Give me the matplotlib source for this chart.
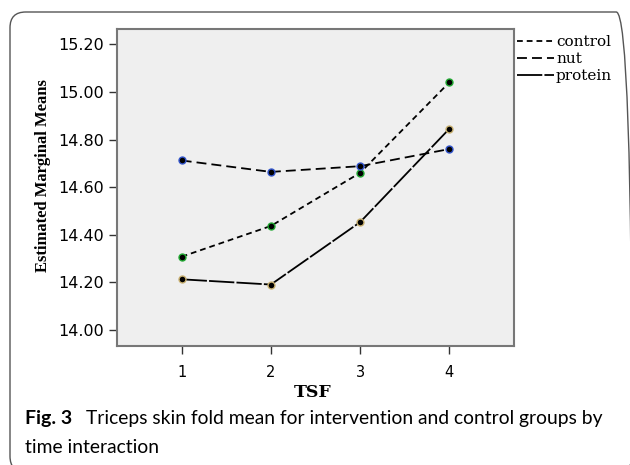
import matplotlib
matplotlib.use("Agg")
import matplotlib.pyplot as plt
from matplotlib.patches import FancyBboxPatch

# Data
tsf = [1, 2, 3, 4]
groups = ["control", "nut", "protein"]
control = [14.308, 14.437, 14.660, 15.040]
nut = [14.712, 14.664, 14.688, 14.760]
protein = [14.213, 14.191, 14.453, 14.845]
yticks = [14.00, 14.20, 14.40, 14.60, 14.80, 15.00, 15.20]

W, H = 630, 465
fig = plt.figure(figsize=(W / 100, H / 100), dpi=100)

# rounded frame
frame = FancyBboxPatch((10 / W, 1 - 472 / H), 622 / W, 460 / H,
                       boxstyle="round,pad=0,rounding_size=0.025",
                       transform=fig.transFigure, fill=False,
                       edgecolor="#555555", linewidth=1.0, clip_on=False,
                       mutation_aspect=W / H)
fig.patches.append(frame)

ax = fig.add_axes([117 / W, 1 - 346 / H, 397 / W, 317 / H])
ax.set_facecolor("#efefef")

styles = {
    "control": dict(data=control, dashes=(3.2, 2.2), edge="#22aa33"),
    "nut": dict(data=nut, dashes=(5.5, 2.8), edge="#3355cc"),
    "protein": dict(data=protein, dashes=(14, 1.2), edge="#c8b070"),
}
handles = []
for g in groups:
    s = styles[g]
    line, = ax.plot(tsf, s["data"], color="black", linewidth=1.3,
                    dashes=s["dashes"], label=g, zorder=2)
    ax.plot(tsf, s["data"], linestyle="none", marker="o", markersize=5,
            markerfacecolor="black", markeredgecolor=s["edge"],
            markeredgewidth=1.0, zorder=3)
    handles.append(line)

ax.set_xlim(0.275, 4.725)
ax.set_ylim(13.933, 15.264)
ax.set_xticks(tsf)
ax.set_xticklabels([str(t) for t in tsf], fontfamily="DejaVu Sans", fontsize=10.5)
ax.set_yticks(yticks)
ax.set_yticklabels([f"{v:.2f}" for v in yticks], fontfamily="DejaVu Sans", fontsize=11.5)
ax.tick_params(axis="both", length=6, width=1.0, color="#333333", pad=3)
ax.tick_params(axis="x", pad=8)
for sp in ax.spines.values():
    sp.set_color("#777777")
    sp.set_linewidth(1.5)

fig.text(43.5 / W, 1 - 176 / H, "Estimated Marginal Means", rotation=90,
         ha="center", va="center", fontfamily="Liberation Serif",
         fontweight="bold", fontsize=12)
fig.text(313 / W, 1 - 392 / H, "TSF", ha="center", va="center",
         fontfamily="DejaVu Serif", fontweight="bold", fontsize=12.5)

fig.legend(handles=handles, labels=groups, loc="upper left",
           bbox_to_anchor=(517 / W, 1 - 35 / H), frameon=False,
           prop={"family": "DejaVu Serif", "size": 11},
           handlelength=2.4, handletextpad=0.15, labelspacing=0.2,
           borderaxespad=0, borderpad=0)

fig.text(25 / W, 1 - 418 / H, "Fig. 3", ha="left", va="center",
         fontfamily="Lato", fontweight="bold", fontsize=14)
fig.text(86 / W, 1 - 418 / H,
         "Triceps skin fold mean for intervention and control groups by",
         ha="left", va="center", fontfamily="Lato", fontsize=13.85)
fig.text(25 / W, 1 - 447 / H, "time interaction", ha="left", va="center",
         fontfamily="Lato", fontsize=13.85)

fig.savefig("out.png", dpi=100)
